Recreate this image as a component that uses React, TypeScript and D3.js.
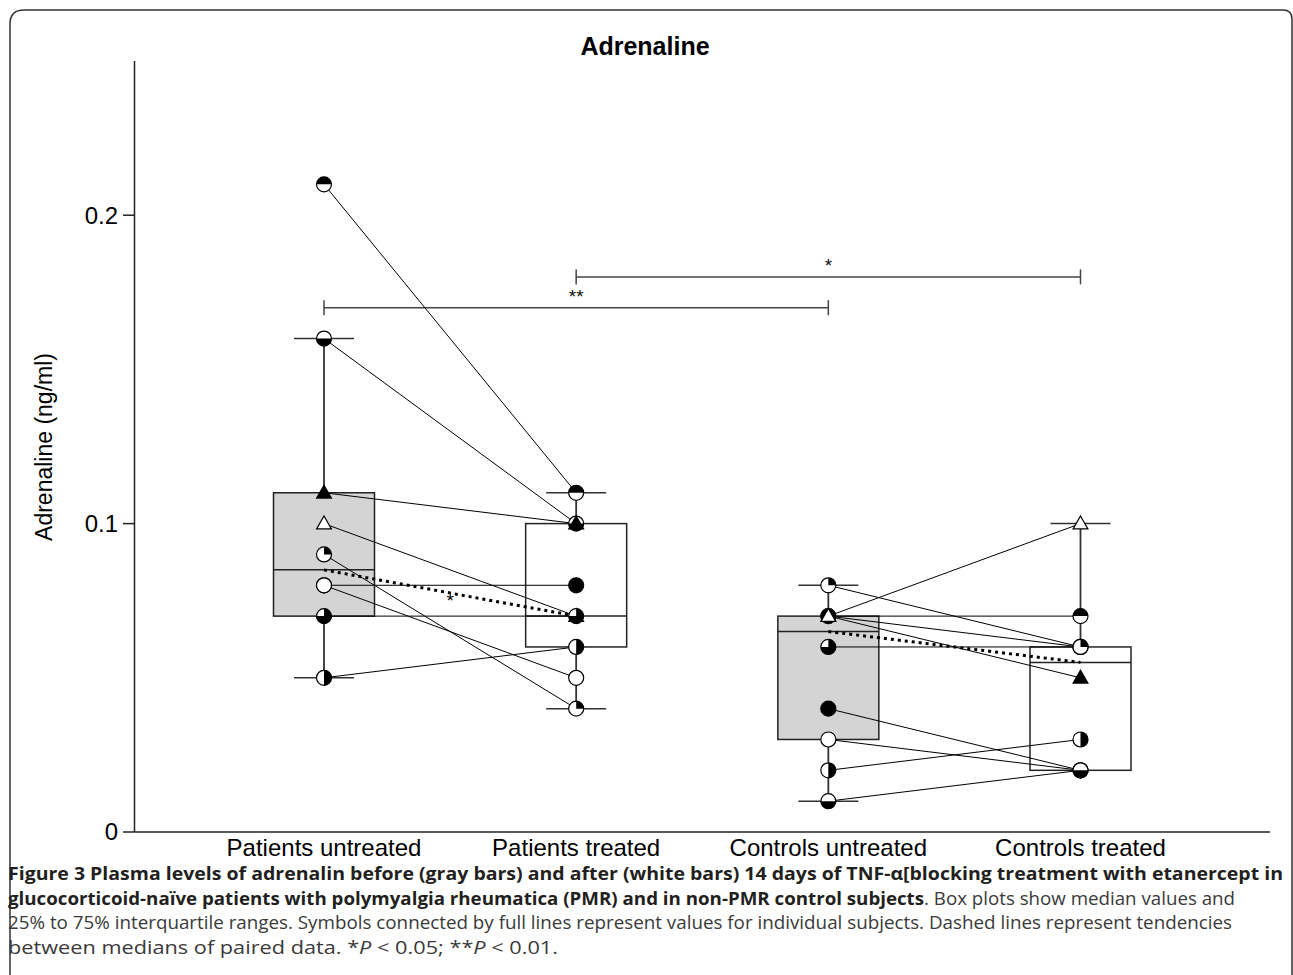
import React from 'react';
import * as d3 from 'd3';

// Chart data
const groups = ['Patients untreated', 'Patients treated', 'Controls untreated', 'Controls treated'];
const boxLow = [0.07, 0.06, 0.03, 0.02];
const boxMedian = [0.085, 0.07, 0.065, 0.055];
const boxHigh = [0.11, 0.1, 0.07, 0.06];
const whiskerLow = [0.05, 0.04, 0.01, 0.02];
const whiskerHigh = [0.16, 0.11, 0.08, 0.1];
const boxFill = ['#d4d4d4', '#ffffff', '#d4d4d4', '#ffffff'];

// paired subjects (order also sets which symbol sits on top)
const patientSymbols = ['topHalf', 'bottomHalf', 'triFilled', 'triOpen', 'quarter', 'filled', 'open', 'threeQuarter', 'rightHalf'];
const patientsUntreated = [0.21, 0.16, 0.11, 0.1, 0.09, 0.08, 0.08, 0.07, 0.05];
const patientsTreated = [0.11, 0.1, 0.1, 0.07, 0.04, 0.08, 0.05, 0.07, 0.06];

const controlSymbols = ['topHalf', 'triFilled', 'filled', 'triOpen', 'threeQuarter', 'filled', 'open', 'rightHalf', 'bottomHalf', 'quarter'];
const controlsUntreated = [0.07, 0.07, 0.07, 0.07, 0.06, 0.04, 0.03, 0.02, 0.01, 0.08];
const controlsTreated = [0.07, 0.05, 0.06, 0.1, 0.06, 0.02, 0.02, 0.03, 0.02, 0.06];

const yTicks = [0, 0.1, 0.2];
const bracketFrom = [0, 1];
const bracketTo = [2, 3];
const bracketValue = [0.17, 0.18];
const bracketLabel = ['**', '*'];

const W = 1293;
const H = 975;

const x = d3.scalePoint<string>().domain(groups).range([324, 1080.5]);
const y = d3.scaleLinear().domain([0, 0.25]).range([832, 61]);

const R = 7.5;
const arc = d3.arc<any>().innerRadius(0).outerRadius(R);
const wedges: { [k: string]: [number, number] } = {
  topHalf: [-Math.PI / 2, Math.PI / 2],
  bottomHalf: [Math.PI / 2, (3 * Math.PI) / 2],
  rightHalf: [0, Math.PI],
  quarter: [0, Math.PI / 2],
  threeQuarter: [0, (3 * Math.PI) / 2],
  filled: [0, 2 * Math.PI],
};
const tri = d3.symbol(d3.symbolTriangle, 95)() as string;

function Marker({ cx, cy, kind }: { cx: number; cy: number; kind: string }) {
  if (kind === 'triFilled' || kind === 'triOpen') {
    return (
      <path
        d={tri}
        transform={`translate(${cx},${cy + 1})`}
        fill={kind === 'triFilled' ? '#000' : '#fff'}
        stroke="#000"
        strokeWidth={1.2}
      />
    );
  }
  const w = wedges[kind];
  return (
    <g transform={`translate(${cx},${cy})`}>
      <circle r={R} fill="#fff" stroke="#000" strokeWidth={1.2} />
      {w && <path d={arc({ startAngle: w[0], endAngle: w[1] }) as string} fill="#000" />}
    </g>
  );
}

function Pairs({ a, b, from, to, symbols }: { a: number[]; b: number[]; from: number; to: number; symbols: string[] }) {
  const x0 = x(groups[from])!;
  const x1 = x(groups[to])!;
  return (
    <g>
      {a.map((v, i) => (
        <line key={'l' + i} x1={x0} y1={y(v)} x2={x1} y2={y(b[i])} stroke="#000" strokeWidth={1} />
      ))}
    </g>
  );
}

export default function App() {
  const bw = 101;
  const capW = 30;
  return (
    <svg width={W} height={H} style={{ position: 'absolute', left: 0, top: 0, display: 'block', background: '#fff' }}>
      {/* frame */}
      <path d="M10,975 L10,24 Q10,10 24,10 L1283,10 Q1292,10 1292,19 L1292,975" fill="none" stroke="#333" strokeWidth={1.5} />

      <text x={645} y={55} textAnchor="middle" fontFamily="Liberation Sans, Arial, sans-serif" fontWeight="bold" fontSize={25}>
        Adrenaline
      </text>

      {/* boxes */}
      {groups.map((g, i) => {
        const cx = x(g)!;
        return (
          <g key={g}>
            <line x1={cx} x2={cx} y1={y(boxHigh[i])} y2={y(whiskerHigh[i])} stroke="#333" strokeWidth={1.8} />
            <line x1={cx} x2={cx} y1={y(boxLow[i])} y2={y(whiskerLow[i])} stroke="#333" strokeWidth={1.8} />
            {whiskerHigh[i] > boxHigh[i] && (
              <line x1={cx - capW} x2={cx + capW} y1={y(whiskerHigh[i])} y2={y(whiskerHigh[i])} stroke="#333" strokeWidth={1.5} />
            )}
            {whiskerLow[i] < boxLow[i] && (
              <line x1={cx - capW} x2={cx + capW} y1={y(whiskerLow[i])} y2={y(whiskerLow[i])} stroke="#333" strokeWidth={1.5} />
            )}
            <rect
              x={cx - bw / 2}
              y={y(boxHigh[i])}
              width={bw}
              height={y(boxLow[i]) - y(boxHigh[i])}
              fill={boxFill[i]}
              stroke="#222"
              strokeWidth={1.5}
            />
            <line x1={cx - bw / 2} x2={cx + bw / 2} y1={y(boxMedian[i])} y2={y(boxMedian[i])} stroke="#222" strokeWidth={1.5} />
          </g>
        );
      })}

      {/* significance brackets */}
      {bracketFrom.map((f, i) => {
        const xa = x(groups[f])!;
        const xb = x(groups[bracketTo[i]])!;
        const yy = y(bracketValue[i]);
        return (
          <g key={'b' + i} stroke="#444" strokeWidth={1.5}>
            <line x1={xa} x2={xb} y1={yy} y2={yy} />
            <line x1={xa} x2={xa} y1={yy - 7.5} y2={yy + 7.5} />
            <line x1={xb} x2={xb} y1={yy - 7.5} y2={yy + 7.5} />
            <text
              x={(xa + xb) / 2}
              y={yy - 5}
              textAnchor="middle"
              stroke="none"
              fill="#111"
              fontFamily="Liberation Sans, Arial, sans-serif"
              fontSize={19}
            >
              {bracketLabel[i]}
            </text>
          </g>
        );
      })}

      {/* axes */}
      <line x1={134.5} x2={134.5} y1={y(0.25)} y2={y(0)} stroke="#222" strokeWidth={1.5} />
      <line x1={134.5} x2={1270} y1={y(0)} y2={y(0)} stroke="#222" strokeWidth={1.5} />
      {yTicks.map((t) => (
        <g key={t}>
          <line x1={123} x2={134.5} y1={y(t)} y2={y(t)} stroke="#222" strokeWidth={1.5} />
          <text x={118} y={y(t)} dy="0.35em" textAnchor="end" fontFamily="Liberation Sans, Arial, sans-serif" fontSize={24}>
            {d3.format('~g')(t)}
          </text>
        </g>
      ))}
      {groups.map((g) => (
        <text key={'x' + g} x={x(g)!} y={856} textAnchor="middle" fontFamily="Liberation Sans, Arial, sans-serif" fontSize={24}>
          {g}
        </text>
      ))}
      <text
        transform={`translate(52,447) rotate(-90)`}
        textAnchor="middle"
        fontFamily="Liberation Sans, Arial, sans-serif"
        fontSize={23}
      >
        Adrenaline (ng/ml)
      </text>

      {/* individual subjects */}
      <Pairs a={patientsUntreated} b={patientsTreated} from={0} to={1} symbols={patientSymbols} />
      <Pairs a={controlsUntreated} b={controlsTreated} from={2} to={3} symbols={controlSymbols} />

      {/* median tendencies */}
      {[0, 2].map((i) => (
        <line
          key={'m' + i}
          x1={x(groups[i])!}
          y1={y(boxMedian[i])}
          x2={x(groups[i + 1])!}
          y2={y(boxMedian[i + 1])}
          stroke="#000"
          strokeWidth={3}
          strokeDasharray="3 4"
        />
      ))}
      <text
        x={(x(groups[0])! + x(groups[1])!) / 2}
        y={(y(boxMedian[0]) + y(boxMedian[1])) / 2 + 14}
        textAnchor="middle"
        fontFamily="Liberation Sans, Arial, sans-serif"
        fontSize={19}
      >
        *
      </text>

      {/* markers */}
      {patientSymbols.map((s, i) => (
        <Marker key={'pu' + i} cx={x(groups[0])!} cy={y(patientsUntreated[i])} kind={s} />
      ))}
      {patientSymbols.map((s, i) => (
        <Marker key={'pt' + i} cx={x(groups[1])!} cy={y(patientsTreated[i])} kind={s} />
      ))}
      {controlSymbols.map((s, i) => (
        <Marker key={'cu' + i} cx={x(groups[2])!} cy={y(controlsUntreated[i])} kind={s} />
      ))}
      {controlSymbols.map((s, i) => (
        <Marker key={'ct' + i} cx={x(groups[3])!} cy={y(controlsTreated[i])} kind={s} />
      ))}

      {/* caption */}
      <g fontFamily="Open Sans, Noto Sans, sans-serif" fontSize={18}>
        <text x={8} y={880} textLength={1275} lengthAdjust="spacingAndGlyphs" fontWeight="bold" fill="#231f20">
          Figure 3 Plasma levels of adrenalin before (gray bars) and after (white bars) 14 days of TNF-α[blocking treatment with etanercept in
        </text>
        <text x={8} y={905} textLength={1227} lengthAdjust="spacingAndGlyphs" fill="#3a3a3a">
          <tspan fontWeight="bold" fill="#231f20">glucocorticoid-naïve patients with polymyalgia rheumatica (PMR) and in non-PMR control subjects</tspan>
          . Box plots show median values and
        </text>
        <text x={8} y={929} textLength={1224} lengthAdjust="spacingAndGlyphs" fill="#3a3a3a">
          25% to 75% interquartile ranges. Symbols connected by full lines represent values for individual subjects. Dashed lines represent tendencies
        </text>
        <text x={8} y={954} textLength={550} lengthAdjust="spacingAndGlyphs" fill="#3a3a3a">
          between medians of paired data. *<tspan fontStyle="italic">P</tspan> &lt; 0.05; **<tspan fontStyle="italic">P</tspan> &lt; 0.01.
        </text>
      </g>
    </svg>
  );
}
